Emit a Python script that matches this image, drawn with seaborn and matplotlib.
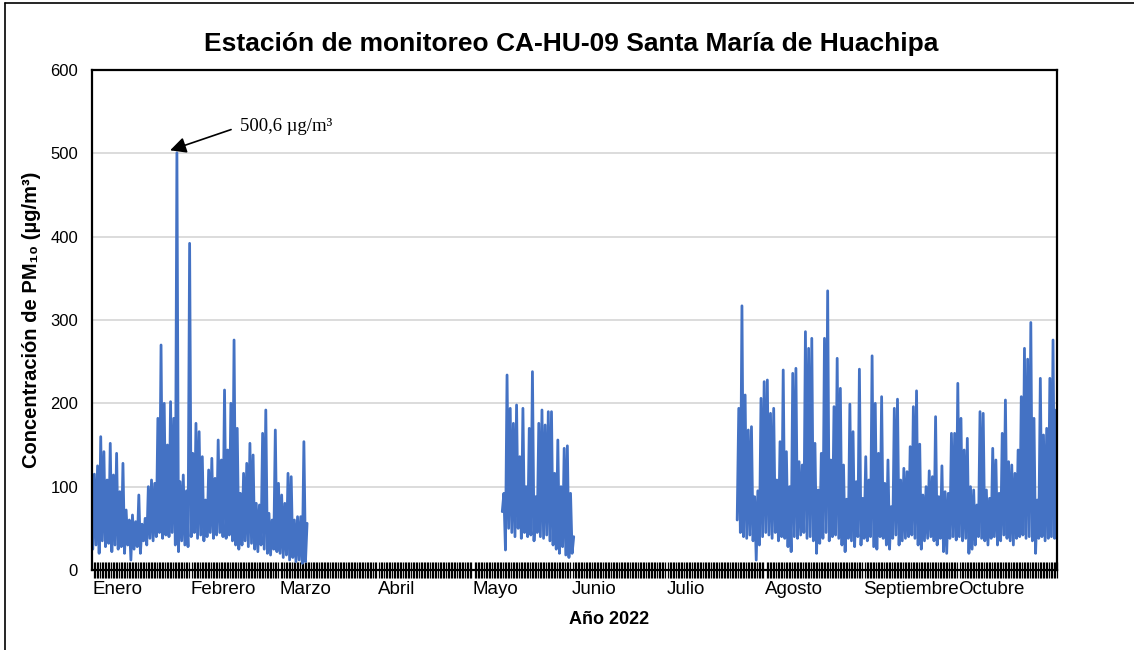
"""
PM10 horario - Estación CA-HU-09 Santa María de Huachipa (2022)
Serie aproximada leída del gráfico original: máximo y mínimo de cada día
para los tres tramos con datos (ene-mar, mayo, jul-oct).
"""

import pandas as pd
import matplotlib
matplotlib.use("Agg")  # headless-safe backend
import matplotlib.pyplot as plt
from matplotlib.lines import Line2D
import seaborn as sns

sns.set_style("white")
plt.rcParams["font.family"] = ["Liberation Sans", "DejaVu Sans"]
plt.rcParams["text.color"] = "black"
plt.rcParams["axes.labelcolor"] = "black"
plt.rcParams["xtick.color"] = "black"
plt.rcParams["ytick.color"] = "black"

BLUE = "#4472C4"

MONTHS = ["Enero", "Febrero", "Marzo", "Abril", "Mayo", "Junio",
          "Julio", "Agosto", "Septiembre", "Octubre"]
MONTH_START = [0, 31, 59, 90, 120, 151, 181, 212, 243, 273]
YEAR_DAYS = 304  # 1 ene - 31 oct

# tramo 1: 1 ene - 9 mar
SEG1_START = 0
SEG1_HIGH = [115, 125, 160, 142, 108, 152, 114, 140, 94, 128,
             72, 60, 66, 58, 90, 55, 62, 100, 108, 104,
             182, 270, 200, 150, 202, 182, 500.6, 106, 114, 95,
             392, 140, 176, 166, 136, 84, 120, 134, 110, 156,
             132, 216, 144, 200, 276, 170, 92, 116, 128, 152,
             138, 80, 78, 164, 192, 68, 60, 168, 104, 90,
             80, 116, 112, 60, 64, 64, 154, 56]
SEG1_LOW = [25, 30, 20, 35, 28, 32, 22, 30, 25, 28,
            20, 30, 12, 25, 28, 20, 35, 30, 38, 35,
            40, 45, 38, 42, 40, 45, 30, 22, 35, 30,
            28, 40, 45, 38, 42, 35, 40, 45, 38, 42,
            45, 40, 38, 42, 35, 30, 25, 30, 35, 28,
            32, 25, 22, 30, 25, 20, 18, 25, 22, 20,
            15, 18, 12, 15, 10, 12, 8, 10]

# tramo 2: 10 may - 1 jun
SEG2_START = 129
SEG2_HIGH = [92, 234, 194, 176, 198, 136, 194, 100, 170, 238, 88, 176,
             192, 174, 190, 190, 116, 156, 100, 146, 149, 92, 40]
SEG2_LOW = [70, 24, 50, 45, 40, 50, 38, 45, 40, 42, 35, 45,
            40, 38, 42, 35, 30, 25, 20, 28, 18, 15, 20]

# tramo 3: 23 jul - 31 oct
SEG3_START = 203
SEG3_HIGH = [194, 317, 210, 168, 172, 88, 95, 206, 226, 228,
             188, 194, 108, 154, 240, 142, 100, 236, 242, 130,
             126, 286, 266, 278, 152, 96, 140, 278, 335, 132,
             196, 254, 218, 126, 85, 199, 166, 106, 241, 86,
             136, 108, 257, 200, 140, 208, 104, 132, 76, 194,
             205, 108, 122, 118, 148, 196, 215, 151, 90, 100,
             119, 112, 184, 88, 125, 94, 92, 164, 164, 224,
             182, 144, 158, 100, 96, 78, 190, 188, 96, 86,
             146, 132, 92, 164, 204, 130, 126, 116, 144, 208,
             266, 253, 297, 182, 84, 230, 162, 170, 230, 276, 192]
SEG3_LOW = [60, 45, 40, 38, 42, 35, 12, 30, 40, 45,
            42, 38, 45, 35, 40, 38, 28, 22, 40, 38,
            42, 45, 38, 40, 35, 20, 32, 38, 45, 35,
            40, 42, 38, 30, 22, 38, 35, 28, 40, 30,
            38, 35, 40, 28, 25, 40, 38, 30, 25, 38,
            42, 30, 35, 38, 40, 42, 38, 30, 25, 35,
            38, 40, 35, 30, 38, 22, 20, 38, 40, 36,
            40, 35, 38, 20, 25, 30, 40, 38, 35, 30,
            38, 40, 30, 35, 42, 38, 35, 30, 38, 40,
            42, 38, 40, 35, 20, 38, 40, 35, 38, 40, 38]

PEAK_DAY = 26
PEAK_VALUE = 500.6


def build_segment(start, highs, lows, name):
    rows = []
    for i, (hi, lo) in enumerate(zip(highs, lows)):
        rows.append((start + i + 0.25, lo, name))
        rows.append((start + i + 0.75, hi, name))
    return pd.DataFrame(rows, columns=["dia", "pm10", "tramo"])


df = pd.concat([
    build_segment(SEG1_START, SEG1_HIGH, SEG1_LOW, "t1"),
    build_segment(SEG2_START, SEG2_HIGH, SEG2_LOW, "t2"),
    build_segment(SEG3_START, SEG3_HIGH, SEG3_LOW, "t3"),
], ignore_index=True)

fig = plt.figure(figsize=(11.34, 6.5), dpi=100)
ax = fig.add_axes([92 / 1134, 80 / 650, 965 / 1134, 500 / 650])

sns.lineplot(data=df, x="dia", y="pm10", units="tramo", estimator=None,
             sort=False, color=BLUE, linewidth=2.0, ax=ax)

ax.set_xlim(0, YEAR_DAYS)
ax.set_ylim(0, 600)
ax.set_yticks(range(0, 601, 100))
ax.yaxis.grid(True, color="#D9D9D9", linewidth=1.3)
ax.xaxis.grid(False)
ax.set_axisbelow(True)
for sp in ax.spines.values():
    sp.set_color("black")
    sp.set_linewidth(1.6)

ax.set_xticks(MONTH_START)
ax.set_xticklabels(MONTHS, fontsize=13.5)
for lbl in ax.get_xticklabels():
    lbl.set_ha("left")
ax.set_xticks([d / 2 for d in range(0, 2 * YEAR_DAYS + 1)], minor=True)
ax.tick_params(axis="x", which="both", bottom=True)
ax.tick_params(axis="x", which="major", length=0, pad=8)
ax.tick_params(axis="x", which="minor", length=11, width=0.9,
               direction="inout", color="black")
ax.tick_params(axis="y", length=0, pad=10, labelsize=12)

ax.set_xlabel("Año 2022", fontsize=13, fontweight="bold")
ax.xaxis.set_label_coords(0.536, -0.082)
ax.set_ylabel("Concentración de PM₁₀ (µg/m³)", fontsize=14.5, fontweight="bold")
ax.yaxis.set_label_coords(-0.053, 0.5)
ax.set_title("Estación de monitoreo CA-HU-09 Santa María de Huachipa",
             fontsize=19, fontweight="bold", pad=14, x=0.497)

ax.annotate(f"{PEAK_VALUE:.1f}".replace(".", ",") + " µg/m³",
            xy=(PEAK_DAY - 1.4, PEAK_VALUE + 3), xytext=(46.5, 532),
            fontsize=13.5, family=["Liberation Serif", "DejaVu Serif"],
            va="center", ha="left",
            arrowprops=dict(arrowstyle="-|>", color="black", lw=1.2,
                            mutation_scale=24, relpos=(0, 0.5), shrinkA=4,
                            shrinkB=0))

# marco exterior (solo izquierda y arriba visibles en el recorte)
fig.add_artist(Line2D([5 / 1134, 5 / 1134], [0, 1 - 3 / 650],
                      color="black", lw=1.2))
fig.add_artist(Line2D([5 / 1134, 1], [1 - 3 / 650, 1 - 3 / 650],
                      color="black", lw=1.2))

fig.savefig("out.png", dpi=100)
